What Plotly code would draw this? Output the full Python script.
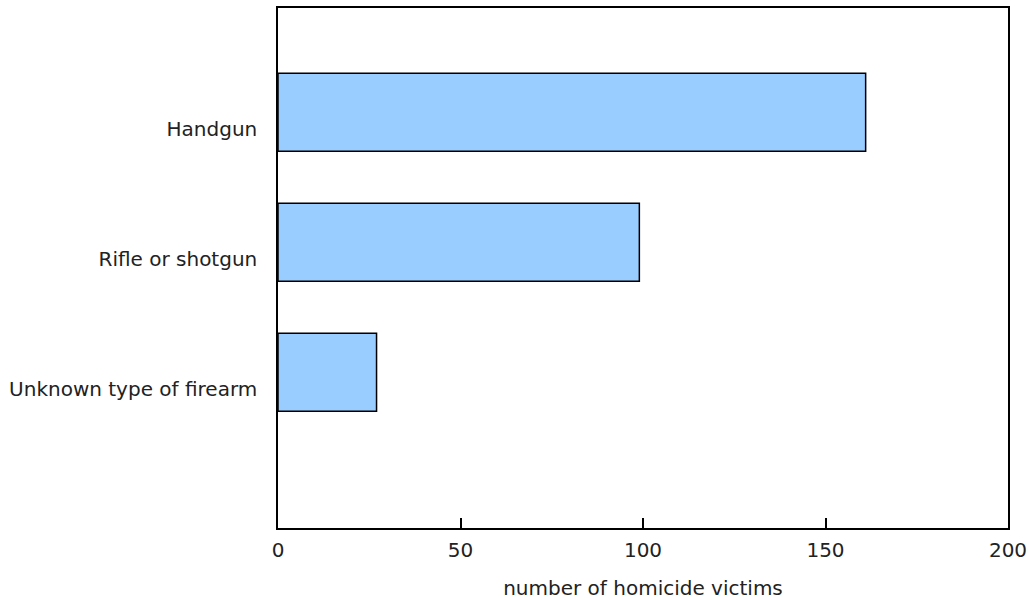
import plotly.graph_objects as go

categories = ["Handgun", "Rifle or shotgun", "Unknown type of firearm"]
values = [161, 99, 27]
x_ticks = [0, 50, 100, 150, 200]
x_title = "number of homicide victims"

fig = go.Figure()
fig.add_trace(go.Bar(
    y=categories, x=values, orientation="h",
    marker=dict(color="#99CCFF", line=dict(color="black", width=1.5)),
    width=0.6, offset=-0.43,
))

fs = 20
font = dict(family="DejaVu Sans, Verdana, sans-serif", size=fs, color="#222222")

fig.update_layout(
    width=1029, height=600,
    margin=dict(l=278, r=21, t=8, b=72),
    paper_bgcolor="white", plot_bgcolor="white",
    font=font,
    showlegend=False,
    xaxis=dict(
        range=[0, 200], tickvals=x_ticks, ticks="inside", ticklen=10,
        tickcolor="black", tickwidth=1.5,
        showline=True, linecolor="black", linewidth=1.5, mirror=True,
        showgrid=False, zeroline=False, automargin=False,
        tickfont=dict(size=fs), ticklabelstandoff=3,
        title=dict(text=x_title, standoff=29, font=dict(size=fs)),
    ),
    yaxis=dict(
        type="category", range=[3.069, -0.931],
        showline=True, linecolor="black", linewidth=1.5, mirror=True,
        showgrid=False, zeroline=False, automargin=False,
        tickfont=dict(size=fs),
        ticks="outside", ticklen=15, tickcolor="rgba(0,0,0,0)",
    ),
)

fig.write_html("out.html", config={"displayModeBar": False},
               post_script="document.body.style.margin='0';")
